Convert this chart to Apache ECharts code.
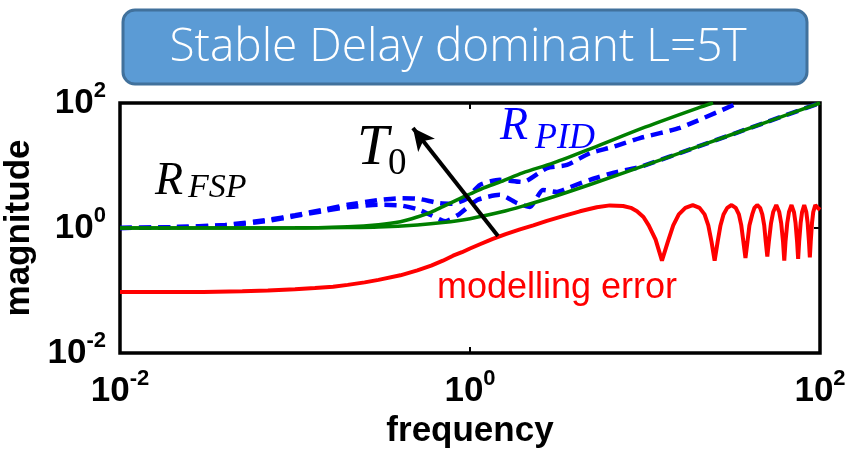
<!DOCTYPE html>
<html>
  <head>
    <meta charset="utf-8" />
    <title>Stable Delay dominant L=5T</title>
    <script src="https://cdn.jsdelivr.net/npm/echarts@6/dist/echarts.min.js"></script>
    <style>
      html, body { margin: 0; padding: 0; background: #fff; }
      #chart { width: 848px; height: 449px; }
    </style>
  </head>
  <body>
    <div id="chart"></div>
    <script type="text/javascript">
      // axis ticks (powers of ten)
      var tickExp = [-2, 0, 2];

      // green: nominal responses for two T0 values
      var fGreenLow = [0.01, 0.05, 0.1, 0.2, 0.3, 0.5, 0.7, 1, 1.5, 2, 3, 5, 10, 20, 50, 100];
      var greenLow = [1, 1.001, 1.005, 1.02, 1.04, 1.12, 1.22, 1.41, 1.8, 2.24, 3.16, 5.1, 10.05, 20, 50, 100];
      var fGreenHigh = [0.01, 0.05, 0.1, 0.2, 0.3, 0.4, 0.5, 0.6, 0.7, 0.85, 1, 1.2, 1.5, 2, 3, 5, 10, 20, 24.5];
      var greenHigh = [1, 1, 1.0, 1.05, 1.13, 1.26, 1.5, 1.8, 2.2, 2.85, 3.5, 4.4, 5.5, 7.6, 11, 19, 41, 83, 100];

      // blue dashed: PID responses
      var fDashHigh = [0.01, 0.02, 0.04, 0.07, 0.1, 0.15, 0.2, 0.3, 0.4, 0.5, 0.67, 0.8, 0.95, 1.14, 1.48, 2.0, 2.75, 3.58, 4.85, 6.56, 9.36, 15.8, 34];
      var dashHigh = [1.0, 1.03, 1.12, 1.35, 1.6, 2.0, 2.35, 2.8, 3.0, 2.95, 2.5, 2.45, 2.9, 4.9, 5.9, 5.45, 9.1, 10.2, 15.8, 19.8, 27.5, 40, 100];
      var fDashLow = [0.01, 0.02, 0.04, 0.07, 0.1, 0.15, 0.2, 0.3, 0.4, 0.5, 0.6, 0.72, 0.85, 1.1, 1.48, 1.86, 2.2, 2.61, 3.14, 3.73, 4.85, 6.56, 9.36, 20, 50, 100];
      var dashLow = [1.0, 1.03, 1.1, 1.3, 1.55, 1.9, 2.15, 2.35, 2.3, 2.0, 1.6, 1.28, 1.6, 2.8, 3.4, 2.5, 2.17, 4.06, 3.77, 4.5, 5.9, 7.6, 9.5, 20, 50, 100];

      // red: modelling error
      var fRed = [0.01, 0.03, 0.05, 0.07, 0.1, 0.13, 0.165, 0.2, 0.25, 0.3, 0.4, 0.5, 0.6, 0.7, 0.8, 0.9, 1.0, 1.14, 1.35, 1.6, 1.93, 2.3, 2.75, 3.4, 4.25, 5.3, 6.3, 7.5, 8.3, 9.0, 9.8, 10.5, 11.5, 12.5,
        13.5, 14.5, 15.6, 17, 18.75, 20.5, 21.9, 23, 24, 25,
        26, 27, 28.1, 29.5, 31.25, 33, 34.4, 35.5, 36.5, 37.5,
        38.5, 39.5, 41, 42.2, 43.75, 45.5, 46.8, 48, 49, 50,
        51, 52.5, 54, 56.25, 58.5, 60, 61.5, 62.5,
        63.5, 65, 66.5, 68.75, 71, 72.5, 74, 75,
        76, 77.5, 79, 81.25, 83.5, 85, 86.5, 87.5,
        88.5, 90, 91.5, 94, 97, 100];
      var red = [0.095, 0.095, 0.097, 0.1, 0.105, 0.11, 0.115, 0.123, 0.135, 0.148, 0.175, 0.21, 0.25, 0.3, 0.36, 0.41, 0.47, 0.55, 0.67, 0.8, 0.95, 1.1, 1.3, 1.55, 1.85, 2.15, 2.3, 2.25, 2.1, 1.85, 1.5, 1.1, 0.65, 0.3,
        0.6, 1.1, 1.65, 2.1, 2.33, 2.1, 1.65, 1.1, 0.6, 0.3,
        0.6, 1.1, 1.65, 2.1, 2.33, 2.1, 1.65, 1.1, 0.6, 0.33,
        0.6, 1.1, 1.65, 2.1, 2.33, 2.1, 1.65, 1.1, 0.6, 0.35,
        0.6, 1.2, 1.8, 2.33, 1.8, 1.2, 0.6, 0.3,
        0.6, 1.2, 1.8, 2.33, 1.8, 1.2, 0.6, 0.32,
        0.6, 1.2, 1.8, 2.33, 1.8, 1.2, 0.6, 0.34,
        0.6, 1.2, 1.8, 2.33, 2.1, 1.95];

      // T0 arrow (data coords)
      var arrowFrom = [1.445, 0.745];
      var arrowTo = [0.472, 39.8];

      function pairs(xs, ys) {
        return xs.map(function (x, i) { return [x, ys[i]]; });
      }

      function powLabel(v) {
        var e = Math.round(Math.log10(v));
        if (tickExp.indexOf(e) < 0) return "";
        return "{b|10}{s|" + e + "}";
      }

      var tickRich = {
        b: { fontSize: 35, fontWeight: "bold", fontFamily: "Liberation Sans", color: "#000", lineHeight: 46 },
        s: { fontSize: 22, fontWeight: "bold", fontFamily: "Liberation Sans", color: "#000", lineHeight: 10, verticalAlign: "top" },
      };

      var serif = '"Liberation Serif", "Times New Roman", serif';
      var tickStyle = { show: true, inside: true, length: 6, lineStyle: { color: "#000", width: 2 } };

      var myChart = echarts.init(document.getElementById("chart"), null, { renderer: "canvas" });

      var option = {
        animation: false,
        backgroundColor: "#fff",
        grid: {
          left: 120, right: 28, top: 103, bottom: 96,
          containLabel: false, outerBoundsMode: "none",
          show: true, borderColor: "#000", borderWidth: 3.5, backgroundColor: "transparent",
        },
        xAxis: [
          {
            type: "log", logBase: 10, min: 0.01, max: 100, interval: 2,
            name: "frequency", nameLocation: "middle", nameGap: 60,
            nameTextStyle: { fontSize: 35, fontWeight: "bold", fontFamily: "Liberation Sans", color: "#000" },
            axisLine: { show: false },
            axisTick: tickStyle,
            axisLabel: { margin: 15, formatter: powLabel, rich: tickRich },
            splitLine: { show: false },
          },
          {
            type: "log", logBase: 10, min: 0.01, max: 100, interval: 2, position: "top",
            axisLine: { show: false }, axisTick: tickStyle,
            axisLabel: { show: false }, splitLine: { show: false },
          },
        ],
        yAxis: [
          {
            type: "log", logBase: 10, min: 0.01, max: 100, interval: 2,
            name: "magnitude", nameLocation: "middle", nameGap: 78,
            nameTextStyle: { fontSize: 35, fontWeight: "bold", fontFamily: "Liberation Sans", color: "#000" },
            axisLine: { show: false }, axisTick: tickStyle,
            axisLabel: { margin: 14, formatter: powLabel, rich: tickRich },
            splitLine: { show: false },
          },
          {
            type: "log", logBase: 10, min: 0.01, max: 100, interval: 2, position: "right",
            axisLine: { show: false }, axisTick: tickStyle,
            axisLabel: { show: false }, splitLine: { show: false },
          },
        ],
        series: [
          {
            name: "modelling error", type: "line", showSymbol: false, clip: true,
            data: pairs(fRed, red),
            lineStyle: { color: "#ff0000", width: 4 },
            z: 2,
          },
          {
            name: "PID 1", type: "line", showSymbol: false, clip: true, smooth: 0.2,
            data: pairs(fDashHigh, dashHigh),
            lineStyle: { color: "#0000ff", width: 4.5, type: [12, 7] },
            z: 3,
          },
          {
            name: "PID 2", type: "line", showSymbol: false, clip: true, smooth: 0.2,
            data: pairs(fDashLow, dashLow),
            lineStyle: { color: "#0000ff", width: 4.5, type: [12, 7] },
            z: 3,
          },
          {
            name: "FSP 1", type: "line", showSymbol: false, clip: true, smooth: 0.3,
            data: pairs(fGreenLow, greenLow),
            lineStyle: { color: "#007f00", width: 3.5 },
            z: 4,
          },
          {
            name: "FSP 2", type: "line", showSymbol: false, clip: true, smooth: 0.3,
            data: pairs(fGreenHigh, greenHigh),
            lineStyle: { color: "#007f00", width: 3.5 },
            z: 4,
            markLine: {
              silent: true,
              symbol: ["none", "arrow"],
              symbolSize: [16, 22],
              lineStyle: { color: "#000", width: 4, type: "solid" },
              label: { show: false },
              data: [[{ coord: arrowFrom }, { coord: arrowTo }]],
            },
          },
        ],
        graphic: [
          {
            type: "rect", shape: { x: 123, y: 10, width: 684, height: 74, r: 12 },
            style: { fill: "#5b9bd5", stroke: "#41719c", lineWidth: 3 }, z: 10,
          },
          {
            type: "text", x: 458, y: 48, z: 11,
            style: { text: "Stable Delay dominant L=5T", fill: "#fff", font: '300 46px "Open Sans"', align: "center", verticalAlign: "middle" },
          },
          { type: "text", x: 155, y: 182, z: 11, style: { text: "R", fill: "#000", font: "italic 46px " + serif, verticalAlign: "middle" } },
          { type: "text", x: 188, y: 188, z: 11, style: { text: "FSP", fill: "#000", font: "italic 34px " + serif, verticalAlign: "middle" } },
          { type: "text", x: 357, y: 149, z: 11, style: { text: "T", fill: "#000", font: "italic 57px " + serif, verticalAlign: "middle" } },
          { type: "text", x: 388, y: 164, z: 11, style: { text: "0", fill: "#000", font: "37px " + serif, verticalAlign: "middle" } },
          { type: "text", x: 500, y: 127, z: 11, style: { text: "R", fill: "#0000ff", font: "italic 46px " + serif, verticalAlign: "middle" } },
          { type: "text", x: 535, y: 139, z: 11, style: { text: "PID", fill: "#0000ff", font: "italic 36px " + serif, verticalAlign: "middle" } },
          { type: "text", x: 437, y: 288, z: 11, style: { text: "modelling error", fill: "#ff0000", font: '36px "Liberation Sans"', verticalAlign: "middle" } },
        ],
      };
      myChart.setOption(option);
    </script>
  </body>
</html>
